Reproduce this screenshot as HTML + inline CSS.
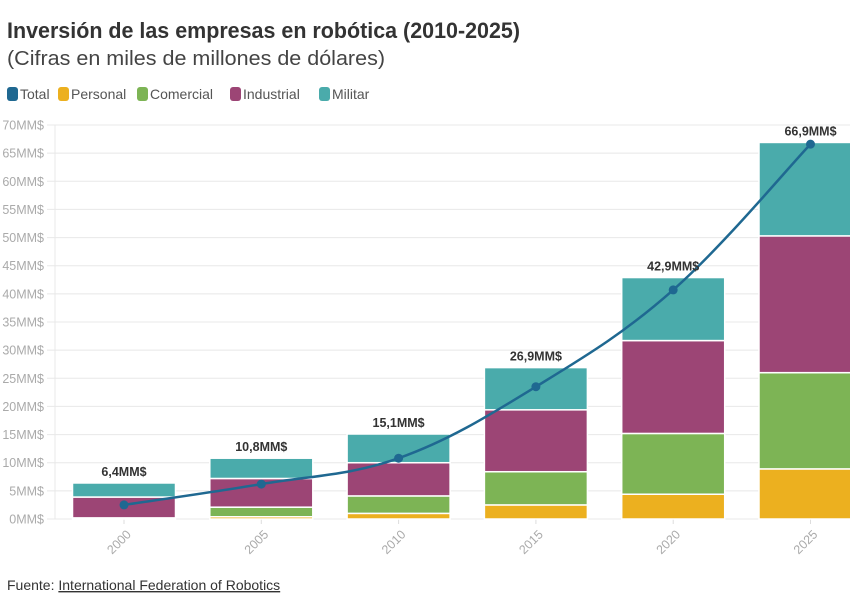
<!DOCTYPE html>
<html><head><meta charset="utf-8"><style>
html,body{margin:0;padding:0;background:#fff;}
svg{display:block;font-family:"Liberation Sans",sans-serif;}
</style></head><body>
<svg id="chart" width="850" height="600" viewBox="0 0 850 600">
<text x="7" y="38" font-size="22" font-weight="bold" fill="#333" textLength="513" lengthAdjust="spacingAndGlyphs">Inversión de las empresas en robótica (2010-2025)</text>
<text x="7" y="65" font-size="20" fill="#444" textLength="378" lengthAdjust="spacingAndGlyphs">(Cifras en miles de millones de dólares)</text>
<g id="legend"></g>
<g id="grid"></g>
<g id="yaxis"></g>
<g id="xaxis"></g>
<g id="bars"></g>
<g id="line"></g>
<g id="labels"></g>
<text x="7" y="590" font-size="14" fill="#333">Fuente: <tspan text-decoration="underline">International Federation of Robotics</tspan></text>
</svg>
<script>
const years = ["2000","2005","2010","2015","2020","2025"];
const personal = [0.2, 0.4, 1.0, 2.5, 4.4, 8.9];
const comercial = [0.0, 1.7, 3.1, 5.9, 10.8, 17.1];
const industrial = [3.7, 5.1, 5.9, 11.0, 16.5, 24.3];
const militar = [2.5, 3.6, 5.1, 7.5, 11.2, 16.6];
const total = [2.5, 6.2, 10.8, 23.5, 40.7, 66.6];
const totalLabels = ["6,4MM$","10,8MM$","15,1MM$","26,9MM$","42,9MM$","66,9MM$"];
const yTicks = [0,5,10,15,20,25,30,35,40,45,50,55,60,65,70];

const NS="http://www.w3.org/2000/svg";
const y0=519, yTop=125, yMax=70;
function y(v){return y0-(v/yMax)*(y0-yTop);}
function x(i){return 124+i*137.3;}
const barW=103;
function mk(tag,attrs,parent){const e=document.createElementNS(NS,tag);for(const k in attrs)e.setAttribute(k,attrs[k]);parent.appendChild(e);return e;}
const colors={Total:"#1f6891",Personal:"#ecb01f",Comercial:"#7db455",Industrial:"#9c4575",Militar:"#4aabab"};

// legend
const lg=document.getElementById("legend");
let lx=7;
const legNames=["Total","Personal","Comercial","Industrial","Militar"];
const legW=[34,62,76,72,48];
legNames.forEach((n,i)=>{
  const g=mk("g",{},lg);
  
  
  mk("rect",{x:lx,y:87,width:11,height:14,rx:3,fill:colors[n]},g);
  const t=mk("text",{x:lx+13,y:99,"font-size":14,fill:"#555"},g);
  t.textContent=n;
  lx+=13+legW[i]+4;
});

// grid + y axis
const gr=document.getElementById("grid"), ya=document.getElementById("yaxis");
yTicks.forEach(v=>{
  const l=mk("line",{x1:47,x2:850,y1:y(v),y2:y(v),stroke:"#e8e8e8","stroke-width":1},gr);
  
  
  const t=mk("text",{x:44,y:y(v)+4.5,"font-size":12.5,fill:"#aaa","text-anchor":"end"},ya);
  
  
  t.textContent=v+"MM$";
});
mk("line",{x1:55,x2:55,y1:yTop,y2:y0,stroke:"#e8e8e8"},gr);

// x axis
const xa=document.getElementById("xaxis");
years.forEach((yr,i)=>{
  mk("line",{x1:x(i),x2:x(i),y1:y0,y2:y0+5,stroke:"#ddd"},xa);
  const t=mk("text",{x:0,y:0,"font-size":12.5,fill:"#aaa","text-anchor":"middle",transform:`translate(${x(i)-2},${y0+26}) rotate(-45)`},xa);
  
  
  t.textContent=yr;
});

// bars
const bg=document.getElementById("bars");
const series=[["personal",personal,"Personal"],["comercial",comercial,"Comercial"],["industrial",industrial,"Industrial"],["militar",militar,"Militar"]];
years.forEach((yr,i)=>{
  let acc=0;
  series.forEach(([key,arr,cn])=>{
    const v=arr[i];
    if(v<=0){return;}
    const top=y(acc+v), bot=y(acc);
    const r=mk("rect",{x:x(i)-barW/2,y:top,width:barW,height:Math.max(0,bot-top),fill:colors[cn],stroke:"#fff","stroke-width":1.5},bg);
    
    
    acc+=v;
  });
});

// total labels (placed above stacked bar top)
const lb=document.getElementById("labels");
years.forEach((yr,i)=>{
  const sum=personal[i]+comercial[i]+industrial[i]+militar[i];
  const t=mk("text",{x:x(i),y:y(sum)-7,"font-size":12.5,"font-weight":"bold",fill:"#333","text-anchor":"middle"},lb);
  
  
  t.textContent=totalLabels[i];
});

// line (monotone-ish cardinal spline)
const lnG=document.getElementById("line");
const pts=total.map((v,i)=>[x(i),y(v)]);
let d="M"+pts[0][0]+","+pts[0][1];
for(let i=0;i<pts.length-1;i++){
  const p0=pts[Math.max(0,i-1)],p1=pts[i],p2=pts[i+1],p3=pts[Math.min(pts.length-1,i+2)];
  const t=0.18;
  const c1=[p1[0]+(p2[0]-p0[0])*t,p1[1]+(p2[1]-p0[1])*t];
  const c2=[p2[0]-(p3[0]-p1[0])*t,p2[1]-(p3[1]-p1[1])*t];
  d+=` C${c1[0]},${c1[1]} ${c2[0]},${c2[1]} ${p2[0]},${p2[1]}`;
}
const path=mk("path",{d:d,fill:"none",stroke:colors.Total,"stroke-width":2.5},lnG);


pts.forEach((p,i)=>{
  const c=mk("circle",{cx:p[0],cy:p[1],r:4.5,fill:colors.Total},lnG);
  
  
});
</script>
</body></html>
